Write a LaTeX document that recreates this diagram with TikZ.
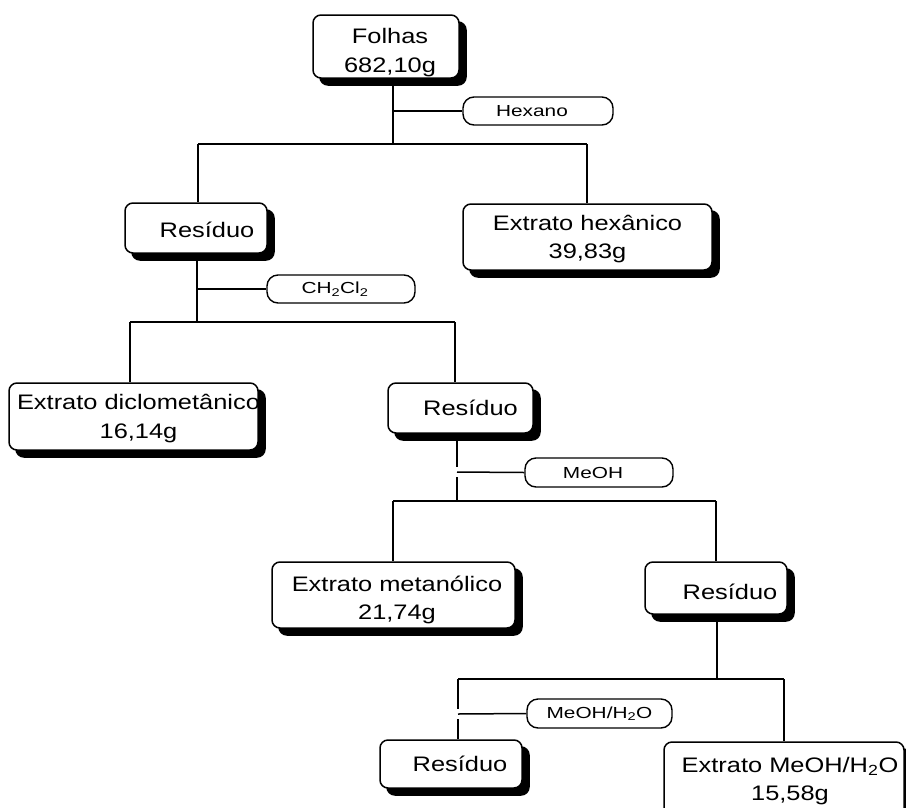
\documentclass[tikz,border=0pt]{standalone}
\usepackage{fontspec}
\setmainfont{Liberation Sans}
\newfontfamily\bigf[FakeStretch=1.21]{Liberation Sans}
\newfontfamily\smf[FakeStretch=1.3]{Liberation Sans}
\usetikzlibrary{shadows}
% #1 horizontal shift (doubled), #2 downward shift, #3 lines
\newcommand{\bxt}[3]{\raisebox{-#2}[0pt][0pt]{\makebox[0pt]{\hspace*{#1}\begin{tabular}{@{}c@{}}#3\end{tabular}}}}
\tikzset{
  box/.style={draw=black, line width=1.5pt, fill=white, rounded corners=8pt, inner sep=0pt,
    drop shadow={shadow xshift=7pt, shadow yshift=-7pt, fill=black, draw=black, opacity=1},
    font=\bigf\fontsize{21}{28.5}\selectfont},
  tag/.style={draw=black, line width=1.4pt, fill=white, rounded corners=11pt, inner sep=0pt,
    minimum height=28pt, font=\smf\fontsize{16}{19}\selectfont},
  wire/.style={line width=1.5pt, line cap=butt},
}
\begin{document}
\begin{tikzpicture}[x=1pt, y=-1pt]
\useasboundingbox (0,0) rectangle (906,807);
\clip (0,0) rectangle (906,807);
% junctions
\coordinate (a1) at (198,144); \coordinate (a2) at (393,144); \coordinate (a3) at (587,144);
\coordinate (ah) at (393,111);
\coordinate (b1) at (130,322); \coordinate (b2) at (197,322); \coordinate (b3) at (455,322);
\coordinate (bh) at (197,289);
\coordinate (c1) at (393,501); \coordinate (c2) at (457,501); \coordinate (c3) at (716,501);
\coordinate (ch) at (457,472); \coordinate (cu) at (457,467); \coordinate (cd) at (457,477);
\coordinate (d1) at (458,679); \coordinate (d2) at (717,679); \coordinate (d3) at (784,679);
\coordinate (dh) at (458,714); \coordinate (du) at (458,709); \coordinate (dd) at (458,719);

% horizontal bars
\draw[wire] (a1) -- (a3);
\draw[wire] (b1) -- (b3);
\draw[wire] (c1) -- (c3);
\draw[wire] (d1) -- (d3);

% boxes
\node[box, minimum width=146pt, minimum height=63pt] (folhas) at (386,46.5) {\bxt{8pt}{11pt}{Folhas\\682,10g}};
\node[tag, minimum width=150pt] (hex) at (538,111) {\hspace*{-12pt}\raisebox{-1.5pt}{Hexano}};
\node[box, minimum width=142pt, minimum height=50pt] (res1) at (196,228) {\bxt{22pt}{9pt}{Resíduo}};
\node[box, minimum width=249pt, minimum height=66pt] (exthex) at (587.5,237) {\bxt{0pt}{7pt}{Extrato hexânico\\39,83g}};
\node[tag, minimum width=148pt] (dcm) at (341,289) {\hspace*{-12pt}CH\textsubscript{2}Cl\textsubscript{2}};
\node[box, minimum width=249pt, minimum height=67pt] (extdic) at (133.5,416.5) {\bxt{10pt}{7pt}{Extrato diclometânico\\16,14g}};
\node[box, minimum width=145pt, minimum height=50pt] (res2) at (460.5,408) {\bxt{20pt}{7pt}{Resíduo}};
\node[tag, minimum width=148pt, minimum height=29pt] (meoh) at (599,472.5) {\hspace*{-12pt}MeOH};
\node[box, minimum width=243pt, minimum height=66pt] (extmet) at (393.5,595) {\bxt{7pt}{10pt}{Extrato metanólico\\21,74g}};
\node[box, minimum width=142pt, minimum height=52pt] (res3) at (716,588) {\bxt{28pt}{11pt}{Resíduo}};
\node[tag, minimum width=145pt, minimum height=29pt] (mh) at (599.5,713.5) {MeOH/H\textsubscript{2}O};
\node[box, minimum width=142pt, minimum height=48pt] (res4) at (451,764) {\bxt{18pt}{7pt}{Resíduo}};
\node[box, minimum width=240pt, minimum height=76pt] (extmh) at (784,780) {\bxt{12pt}{6pt}{Extrato MeOH/H\textsubscript{2}O\\15,58g}};

% connectors attached to boxes
\draw[wire] (folhas.south -| a2) -- (a2);
\draw[wire] (ah) -- (hex.west);
\draw[wire] (a1) -- (res1.north -| a1);
\draw[wire] (a3) -- (exthex.north -| a3);
\draw[wire] (res1.south -| b2) -- (b2);
\draw[wire] (bh) -- (dcm.west);
\draw[wire] (b1) -- (extdic.north -| b1);
\draw[wire] (b3) -- (res2.north -| b3);
\draw[wire] (res2.south -| cu) -- (cu);
\draw[wire] (cd) -- (c2);
\draw[wire] (ch) -- (meoh.west);
\draw[wire] (c1) -- (extmet.north -| c1);
\draw[wire] (c3) -- (res3.north -| c3);
\draw[wire] (res3.south -| d2) -- (d2);
\draw[wire] (d1) -- (du);
\draw[wire] (dd) -- (res4.north -| dd);
\draw[wire] (dh) -- (mh.west);
\draw[wire] (d3) -- (extmh.north -| d3);
\end{tikzpicture}
\end{document}
